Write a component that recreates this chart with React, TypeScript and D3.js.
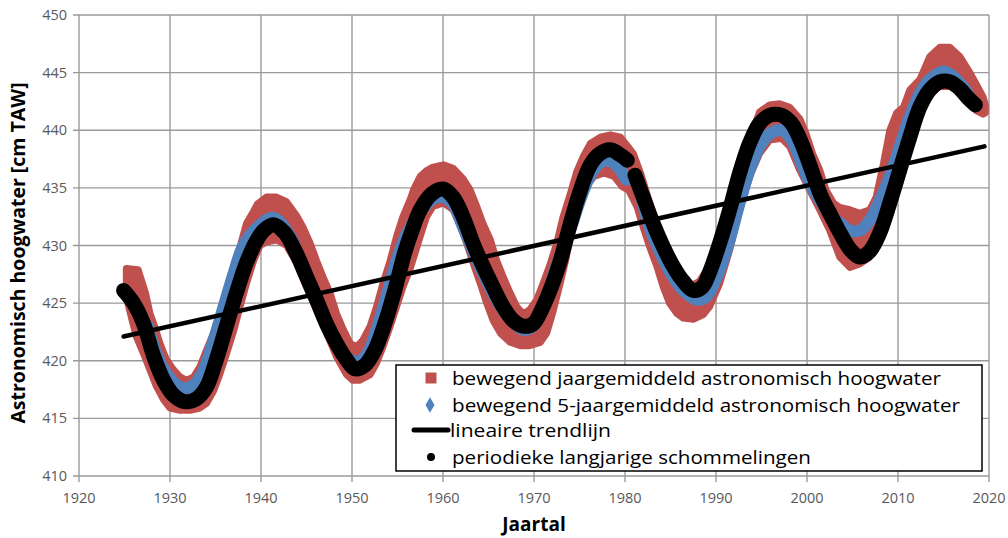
import React from 'react';
import * as d3 from 'd3';

type P = [number, number];

const xTicks = [1920, 1930, 1940, 1950, 1960, 1970, 1980, 1990, 2000, 2010, 2020];
const yTicks = [410, 415, 420, 425, 430, 435, 440, 445, 450];

const legendLabels = [
  'bewegend jaargemiddeld astronomisch hoogwater',
  'bewegend 5-jaargemiddeld astronomisch hoogwater',
  'lineaire trendlijn',
  'periodieke langjarige schommelingen',
];

// lineaire trendlijn
const trend: P[] = [[1924.9, 422.1], [2019.5, 438.6]];

// periodieke langjarige schommelingen (two segments, gap around 1980)
const blackSeg1: P[] = [
  [1924.9, 426.1], [1926.0, 425.0], [1927.1, 423.2], [1928.2, 420.4], [1929.3, 418.3],
  [1930.4, 417.0], [1931.6, 416.45], [1932.9, 416.7], [1934.0, 417.7], [1935.1, 420.1],
  [1936.2, 423.0], [1937.3, 425.9], [1938.4, 428.5], [1939.5, 430.4], [1940.3, 431.3],
  [1941.35, 431.8], [1942.6, 431.1], [1943.9, 429.3], [1945.0, 427.3], [1946.1, 425.3],
  [1947.2, 423.2], [1948.3, 421.5], [1949.4, 420.1], [1950.3, 419.3], [1951.4, 419.6],
  [1952.5, 420.9], [1953.6, 423.2], [1954.7, 426.1], [1955.8, 429.4], [1956.6, 431.3],
  [1957.5, 433.1], [1958.8, 434.5], [1960.0, 434.9], [1961.1, 434.2], [1962.2, 432.5],
  [1963.3, 430.2], [1964.4, 428.2], [1965.5, 426.4], [1966.6, 424.7], [1967.7, 423.5],
  [1968.8, 423.0], [1969.9, 423.2], [1971.0, 424.7], [1972.0, 426.6], [1972.9, 428.7],
  [1974.0, 431.9], [1975.1, 434.8], [1976.2, 437.0], [1977.3, 438.0], [1978.4, 438.3],
  [1979.5, 437.85], [1980.25, 437.4],
];
const blackSeg2: P[] = [
  [1981.1, 436.1], [1982.0, 434.2], [1983.1, 431.9], [1984.2, 429.9], [1985.3, 428.2],
  [1986.4, 426.9], [1987.5, 426.1], [1988.5, 426.4], [1989.3, 427.7], [1990.4, 430.2],
  [1991.5, 433.1], [1992.6, 436.3], [1993.7, 438.9], [1994.8, 440.6], [1995.9, 441.3],
  [1997.2, 441.3], [1998.3, 440.6], [1999.4, 438.9], [2000.5, 436.55], [2001.6, 434.2],
  [2002.7, 432.5], [2003.7, 431.0], [2004.8, 429.6], [2005.8, 429.0], [2006.9, 429.5],
  [2008.0, 431.1], [2009.1, 433.7], [2010.2, 436.55], [2011.3, 439.4], [2012.4, 442.0],
  [2013.5, 443.5], [2014.6, 444.2], [2015.7, 444.2], [2016.8, 443.6], [2017.7, 442.8],
  [2018.5, 442.2],
];

// bewegend 5-jaargemiddeld astronomisch hoogwater
const blue: P[] = [
  [1927.6, 423.0], [1928.5, 420.6], [1929.6, 418.9], [1930.7, 417.9], [1931.6, 417.6],
  [1932.6, 417.9], [1933.7, 419.2], [1934.8, 421.8], [1935.9, 424.7], [1937.0, 427.6],
  [1938.05, 430.0], [1939.5, 431.5], [1941.35, 432.4], [1943.2, 430.8], [1944.3, 428.7],
  [1945.4, 426.7], [1946.5, 424.7], [1947.6, 422.7], [1948.7, 420.9], [1949.8, 420.1],
  [1950.5, 419.9], [1951.6, 420.5], [1952.7, 422.7], [1953.8, 425.6], [1954.9, 428.7],
  [1956.0, 431.0], [1957.5, 432.9], [1958.8, 434.0], [1960.0, 434.2], [1961.1, 433.6],
  [1962.2, 431.6], [1964.4, 427.6], [1966.6, 424.4], [1968.8, 422.7], [1969.9, 423.0],
  [1971.4, 425.6], [1972.5, 428.3], [1974.0, 431.4], [1975.1, 434.0], [1976.2, 436.1],
  [1977.3, 437.2], [1978.4, 437.3], [1979.5, 436.55], [1980.2, 435.7], [1980.9, 436.0],
  [1982.7, 431.6], [1984.6, 428.2], [1986.4, 426.1], [1987.9, 425.3], [1989.0, 425.6],
  [1990.4, 427.9], [1991.5, 430.5], [1992.6, 433.7], [1993.7, 436.55], [1994.8, 438.6],
  [1995.9, 439.7], [1997.2, 440.0], [1998.3, 439.15], [1999.4, 437.1], [2000.5, 435.1],
  [2001.6, 433.7], [2002.7, 432.5], [2003.7, 431.9], [2004.7, 431.3], [2005.8, 431.3],
  [2006.9, 432.2], [2008.0, 433.9], [2009.1, 436.0], [2010.2, 438.6], [2011.3, 441.2],
  [2012.4, 443.2], [2013.5, 444.4], [2015.0, 445.1], [2016.0, 444.7], [2017.1, 443.8],
  [2017.6, 443.3],
];

// bewegend jaargemiddeld astronomisch hoogwater: upper and lower edge of the band
const redHigh: P[] = [
  [1925.2, 428.0], [1926.5, 427.9], [1927.3, 425.9], [1927.8, 424.1], [1928.3, 423.0],
  [1928.9, 421.5], [1929.6, 420.1], [1930.4, 419.2], [1931.1, 418.6], [1931.8, 418.3],
  [1932.6, 418.6], [1933.3, 419.5], [1934.0, 420.9], [1934.8, 422.4], [1935.5, 424.1],
  [1936.2, 425.9], [1937.0, 427.9], [1937.7, 429.9], [1938.4, 431.9], [1939.2, 433.0],
  [1939.6, 433.6], [1940.6, 434.2], [1941.7, 434.2], [1942.8, 433.8], [1943.9, 432.6],
  [1944.6, 431.6], [1945.4, 430.2], [1946.1, 428.7], [1946.8, 427.3], [1947.6, 425.85],
  [1948.3, 424.1], [1949.05, 422.7], [1949.8, 421.5], [1950.5, 421.2], [1951.2, 421.8],
  [1952.0, 423.0], [1952.7, 424.7], [1953.4, 426.7], [1954.2, 428.7], [1954.9, 430.8],
  [1955.6, 432.5], [1956.4, 434.0], [1956.8, 434.9], [1957.5, 436.0], [1958.2, 436.5],
  [1958.9, 436.8], [1960.05, 437.0], [1961.1, 436.7], [1962.2, 435.8], [1963.0, 434.8],
  [1963.7, 433.4], [1964.4, 431.9], [1965.2, 430.5], [1965.9, 428.7], [1966.6, 427.3],
  [1967.4, 425.85], [1968.1, 424.7], [1968.8, 424.1], [1969.5, 424.4], [1970.3, 425.3],
  [1971.0, 426.7], [1971.7, 428.2], [1972.5, 430.2], [1973.2, 432.5], [1974.0, 434.5],
  [1974.7, 436.4], [1975.4, 437.7], [1976.2, 438.85], [1977.3, 439.4], [1978.4, 439.6],
  [1979.5, 439.4], [1980.2, 438.7], [1980.9, 438.0], [1981.7, 436.3], [1982.4, 434.5],
  [1983.1, 432.8], [1983.8, 431.1], [1984.6, 429.6], [1985.3, 428.2], [1986.0, 427.3],
  [1986.8, 426.7], [1987.5, 426.6], [1988.2, 426.9], [1989.0, 427.9], [1990.4, 430.5],
  [1991.5, 433.5], [1992.6, 436.6], [1993.7, 439.2], [1994.8, 441.6], [1995.9, 442.2],
  [1997.0, 442.3], [1998.1, 442.0], [1999.2, 441.0], [1999.9, 439.7], [2000.6, 438.0],
  [2001.4, 436.55], [2002.1, 434.8], [2002.9, 433.7], [2003.6, 433.3], [2004.7, 433.1],
  [2005.8, 432.8], [2006.9, 433.1], [2007.6, 434.2], [2008.4, 437.1], [2009.1, 440.0],
  [2009.85, 441.5], [2010.6, 442.0], [2011.3, 443.5], [2012.4, 444.4], [2013.5, 446.4],
  [2014.6, 447.2], [2015.7, 447.2], [2016.8, 446.4], [2017.9, 445.0], [2018.6, 444.0],
  [2019.35, 442.9], [2019.6, 442.2],
];
const redLow: P[] = [
  [1925.2, 425.5], [1926.3, 422.1], [1927.1, 420.6], [1927.8, 419.2], [1928.5, 417.8],
  [1929.3, 416.6], [1930.0, 415.9], [1931.1, 415.7], [1932.2, 415.7], [1933.3, 415.9],
  [1934.0, 416.3], [1934.8, 417.4], [1935.5, 418.9], [1936.2, 420.6], [1937.0, 422.6],
  [1937.7, 424.7], [1938.4, 426.7], [1939.2, 428.7], [1939.9, 430.0], [1940.6, 430.3],
  [1941.7, 430.5], [1942.8, 430.0], [1943.9, 428.5], [1945.0, 426.4], [1946.1, 424.4],
  [1947.2, 422.4], [1948.3, 420.35], [1949.4, 418.8], [1950.1, 418.3], [1950.8, 418.3],
  [1952.0, 418.8], [1952.7, 419.8], [1953.4, 421.2], [1954.2, 423.0], [1954.9, 424.7],
  [1955.6, 426.4], [1956.4, 428.0], [1957.5, 430.8], [1958.2, 432.5], [1958.9, 433.4],
  [1960.05, 433.7], [1961.1, 433.1], [1961.8, 431.9], [1962.6, 430.2], [1963.3, 428.5],
  [1964.1, 426.7], [1964.8, 425.0], [1965.5, 423.5], [1966.3, 422.4], [1967.4, 421.6],
  [1968.5, 421.3], [1969.5, 421.3], [1970.7, 421.6], [1971.4, 422.4], [1972.1, 424.3],
  [1972.9, 426.8], [1973.5, 428.8], [1974.0, 430.8], [1974.7, 433.1], [1975.4, 434.8],
  [1976.6, 436.0], [1977.7, 436.3], [1978.8, 436.0], [1979.7, 435.1], [1980.4, 434.8],
  [1981.3, 433.4], [1982.0, 431.6], [1982.7, 429.9], [1983.5, 428.2], [1984.2, 426.4],
  [1984.9, 425.0], [1985.7, 424.1], [1986.4, 423.7], [1987.5, 423.6], [1988.6, 424.0],
  [1989.3, 424.7], [1990.4, 426.7], [1991.5, 429.6], [1992.6, 433.1], [1993.7, 436.0],
  [1994.8, 438.0], [1995.9, 439.15], [1997.2, 439.3], [1998.1, 438.6], [1999.2, 436.55],
  [2000.3, 434.8], [2001.4, 433.1], [2002.5, 431.3], [2003.6, 429.0], [2004.35, 428.4],
  [2004.7, 428.1], [2005.8, 428.4], [2006.9, 429.0], [2008.0, 430.8], [2008.7, 432.8],
  [2009.5, 435.0], [2010.2, 437.3], [2010.9, 439.6], [2011.7, 441.3], [2012.4, 442.4],
  [2013.1, 443.3], [2014.6, 443.8], [2015.7, 443.8], [2016.4, 443.5], [2017.5, 442.9],
  [2018.6, 441.7], [2019.35, 441.4], [2019.6, 441.5],
];

const RED = '#C0504D';
const BLUE = '#4F81BD';
const GRID = '#9a9a9a';
const TICK_TXT = '#595959';
const FONT = '"Open Sans", "Liberation Sans", sans-serif';

export default function App() {
  const W = 1008;
  const H = 538;
  const x = d3.scaleLinear().domain([1920, 2020]).range([79, 989]);
  const y = d3.scaleLinear().domain([410, 450]).range([476, 15]);

  const smooth = d3.line<P>().x(d => x(d[0])).y(d => y(d[1])).curve(d3.curveCatmullRom.alpha(0.5));
  const straight = d3.line<P>().x(d => x(d[0])).y(d => y(d[1]));
  const band = d3.line<P>().x(d => x(d[0])).y(d => y(d[1])).curve(d3.curveLinearClosed);
  const redPoly: P[] = [...redHigh, ...[...redLow].reverse()];

  const [x0, x1] = x.range();
  const [y0, y1] = y.range();

  // legend geometry
  const lg = { x: 396, y: 365, w: 586, h: 106 };
  const rowY = [378, 405, 430, 457];
  const textX = [452, 452, 450, 452];
  const textLen = [489, 508, 161, 359];

  return (
    <svg width={W} height={H} style={{ position: 'absolute', left: 0, top: 0, background: '#fff' }}
      fontFamily={FONT}>
      <rect x={0} y={0} width={W} height={H} fill="#fff" />
      {/* gridlines */}
      {yTicks.map(t => (
        <line key={'gy' + t} x1={x0 - 6} x2={x1} y1={y(t)} y2={y(t)} stroke={GRID} strokeWidth={1.4} />
      ))}
      {xTicks.map(t => (
        <line key={'gx' + t} x1={x(t)} x2={x(t)} y1={y1} y2={y0 + 6} stroke={GRID} strokeWidth={1.4} />
      ))}
      {/* tick labels */}
      {yTicks.map(t => (
        <text key={'ly' + t} x={67} y={y(t)} dy="0.35em" textAnchor="end" fontSize={14.5} fill={TICK_TXT}>{t}</text>
      ))}
      {xTicks.map(t => (
        <text key={'lx' + t} x={x(t)} y={503} textAnchor="middle" fontSize={14.5} fill={TICK_TXT}>{t}</text>
      ))}
      {/* axis titles */}
      <text transform={`translate(25,${253}) rotate(-90)`} textAnchor="middle" fontSize={19.5} fontWeight="bold" fill="#000">
        Astronomisch hoogwater [cm TAW]
      </text>
      <text x={(x0 + x1) / 2} y={531} textAnchor="middle" fontSize={19} fontWeight="bold" fill="#000">Jaartal</text>

      {/* series */}
      <path d={band(redPoly) || ''} fill={RED} stroke={RED} strokeWidth={7} strokeLinejoin="round" />
      <path d={smooth(blue) || ''} fill="none" stroke={BLUE} strokeWidth={12} strokeLinecap="round" strokeLinejoin="round" />
      <path d={straight(trend) || ''} fill="none" stroke="#000" strokeWidth={4.5} strokeLinecap="round" />
      <path d={smooth(blackSeg1) || ''} fill="none" stroke="#000" strokeWidth={15} strokeLinecap="round" strokeLinejoin="round" />
      <path d={smooth(blackSeg2) || ''} fill="none" stroke="#000" strokeWidth={15} strokeLinecap="round" strokeLinejoin="round" />

      {/* legend */}
      <rect x={lg.x} y={lg.y} width={lg.w} height={lg.h} fill="#fff" stroke="#000" strokeWidth={1.5} />
      <rect x={425.5} y={rowY[0] - 5.5} width={11} height={11} fill={RED} />
      <path d={d3.symbol().type(d3.symbolDiamond).size(70)() || ''} transform={`translate(430,${rowY[1]})`} fill={BLUE} />
      <line x1={414} x2={448} y1={rowY[2]} y2={rowY[2]} stroke="#000" strokeWidth={5} strokeLinecap="round" />
      <circle cx={431} cy={rowY[3]} r={4} fill="#000" />
      {legendLabels.map((s, i) => (
        <text key={s} x={textX[i]} y={rowY[i]} dy="0.35em" fontSize={19} fill="#000"
          textLength={textLen[i]} lengthAdjust="spacingAndGlyphs">{s}</text>
      ))}
    </svg>
  );
}
